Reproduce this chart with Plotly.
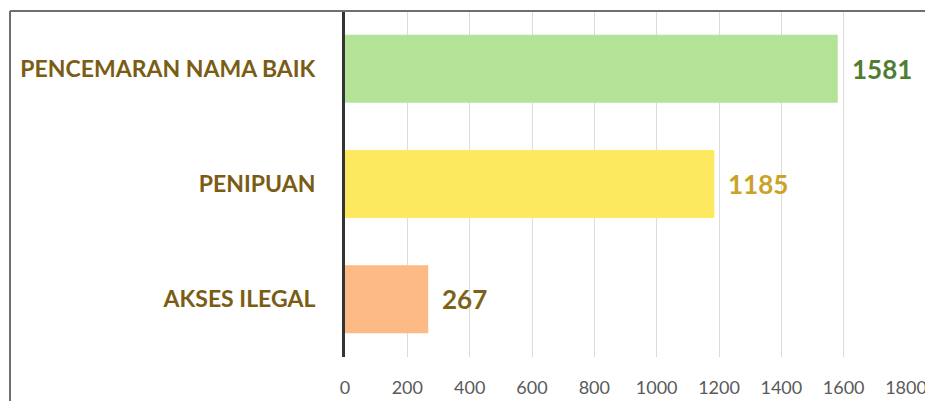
import plotly.graph_objects as go

categories = ["PENCEMARAN NAMA BAIK", "PENIPUAN", "AKSES ILEGAL"]
values = [1581, 1185, 267]
bar_colors = ["#b3e396", "#fde95f", "#fdba85"]
value_colors = ["#4f7d31", "#c9a227", "#7b6318"]
tick_vals = [0, 200, 400, 600, 800, 1000, 1200, 1400, 1600, 1800]

W, H = 925, 401
ml, mr, mt, mb = 345, 19, 11, 44

fig = go.Figure()
fig.add_trace(go.Bar(
    y=categories, x=values, orientation="h",
    marker=dict(color=bar_colors, line=dict(width=0)),
    width=0.59, hoverinfo="skip",
))

for c, v, col in zip(categories, values, value_colors):
    fig.add_annotation(x=v, y=c, text=str(v), showarrow=False,
                       xanchor="left", yanchor="middle", xshift=12,
                       font=dict(family="Lato", size=26, color=col, weight="bold"))

pw = W - ml - mr
ph = H - mt - mb
# outer frame lines (top and left)
fig.add_shape(type="line", xref="paper", yref="paper",
              x0=(10 - ml) / pw, x1=(W + 5 - ml) / pw, y0=1, y1=1,
              line=dict(color="#6e6e6e", width=2))
fig.add_shape(type="line", xref="paper", yref="paper",
              x0=(10 - ml) / pw, x1=(10 - ml) / pw, y0=1, y1=-(H - mt - ph + 5) / ph,
              line=dict(color="#6e6e6e", width=2))

fig.update_layout(
    width=W, height=H,
    margin=dict(l=ml, r=mr, t=mt, b=mb),
    paper_bgcolor="white", plot_bgcolor="white",
    showlegend=False,
    bargap=0.41,
    xaxis=dict(range=[0, 1800], tickvals=tick_vals, ticktext=[str(t) for t in tick_vals],
               showgrid=True, gridcolor="#dcdcdc", gridwidth=1, zeroline=False,
               ticks="", tickfont=dict(family="Lato", size=18, color="#5a5a5a"),
               ticklabelstandoff=18, ticklabeloverflow="allow", automargin=False,
               showline=False, fixedrange=True),
    yaxis=dict(categoryorder="array", categoryarray=categories, autorange="reversed",
               showline=True, linecolor="#333333", linewidth=3,
               ticks="", ticklabelstandoff=22, automargin=False,
               tickfont=dict(family="Lato", size=23, color="#7a5c14", weight="bold"),
               showgrid=False, zeroline=False, fixedrange=True),
)

fig.write_html("out.html")
